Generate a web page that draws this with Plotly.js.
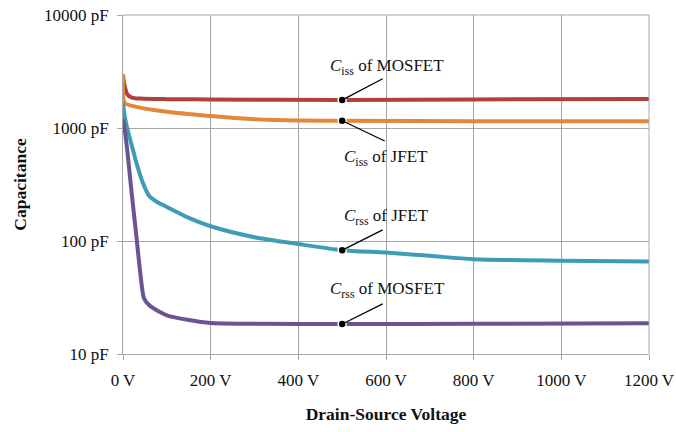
<!DOCTYPE html>
<html>
<head>
<meta charset="utf-8">
<script src="https://cdn.plot.ly/plotly-3.0.1.min.js"></script>
<style>html,body{margin:0;padding:0;background:#fff;}#chart{width:676px;height:432px;}</style>
</head>
<body>
<div id="chart"></div>
<script>
// Ciss of MOSFET
var mosfetCissV = [0, 2, 5, 10, 20, 40, 100, 200, 500, 800, 1200];
var mosfetCiss  = [2950, 2550, 2250, 1980, 1860, 1820, 1800, 1790, 1770, 1790, 1805];
// Ciss of JFET
var jfetCissV = [0, 1, 5, 23, 100, 200, 290, 400, 500, 800, 1200];
var jfetCiss  = [3000, 1800, 1650, 1560, 1390, 1276, 1200, 1165, 1160, 1150, 1150];
// Crss of JFET
var jfetCrssV = [0, 5, 10, 20, 30, 45, 60, 75, 100, 150, 200, 300, 400, 500, 600, 700, 800, 1000, 1200];
var jfetCrss  = [1650, 1200, 980, 700, 500, 330, 250, 225, 200, 160, 135, 108, 94, 83, 79, 74, 69, 67, 66];
// Crss of MOSFET
var mosfetCrssV = [0, 5, 10, 20, 30, 40, 48, 60, 80, 100, 150, 200, 300, 500, 800, 1200];
var mosfetCrss  = [1200, 900, 620, 260, 115, 50, 31, 27, 24, 22, 20, 18.8, 18.5, 18.4, 18.5, 18.7];

var xTickVals = [0, 200, 400, 600, 800, 1000, 1200];
var xTickText = ['0 V', '200 V', '400 V', '600 V', '800 V', '1000 V', '1200 V'];
var yTickVals = [10, 100, 1000, 10000];
var yTickText = ['10 pF', '100 pF', '1000 pF', '10000 pF'];

var labelV = 500;
var labels = ['<i>C</i><sub>iss</sub> of MOSFET', '<i>C</i><sub>iss</sub> of JFET',
              '<i>C</i><sub>rss</sub> of JFET', '<i>C</i><sub>rss</sub> of MOSFET'];

var FONT = 'Liberation Serif';

var series = [
  {v: mosfetCissV, c: mosfetCiss, color: '#b0423e'},
  {v: jfetCissV, c: jfetCiss, color: '#e3883a'},
  {v: jfetCrssV, c: jfetCrss, color: '#3d9db5'},
  {v: mosfetCrssV, c: mosfetCrss, color: '#6b5394'}
];

var traces = series.map(function(s){
  return {x: s.v, y: s.c, mode: 'lines', type: 'scatter',
          line: {color: s.color, width: 4, shape: 'spline', smoothing: 0.7},
          hoverinfo: 'skip', showlegend: false};
});

var dotY = series.map(function(s){ return s.c[s.v.indexOf(labelV)]; });
traces.push({x: dotY.map(function(){return labelV;}), y: dotY, mode: 'markers', type: 'scatter',
  marker: {color: '#000', size: 8, line: {color: '#fff', width: 1.5}}, showlegend: false, hoverinfo: 'skip'});

// label offsets (pixels) and leader line offsets
var textShift = [[45, 33], [44, -37], [44, 33], [45, 34]];
var lineOff = [[42, -22], [44, 21], [42, -21], [42, -21]];

var annotations = [];
dotY.forEach(function(v, i){
  annotations.push({x: labelV, y: Math.log10(v), xref: 'x', yref: 'y', text: labels[i],
    showarrow: false, xshift: textShift[i][0], yshift: textShift[i][1],
    font: {family: FONT, size: 17, color: '#111'}});
  annotations.push({x: labelV, y: Math.log10(v), xref: 'x', yref: 'y', text: '',
    showarrow: true, arrowhead: 0, arrowwidth: 1.3, arrowcolor: '#000',
    ax: lineOff[i][0], ay: lineOff[i][1], standoff: 3});
});

var layout = {
  width: 676, height: 432,
  margin: {l: 123, r: 27, t: 15, b: 78},
  paper_bgcolor: '#fff', plot_bgcolor: '#fff',
  font: {family: FONT, size: 17, color: '#111'},
  xaxis: {
    range: [0, 1200], tickvals: xTickVals, ticktext: xTickText,
    showgrid: true, gridcolor: '#a6a6a6', gridwidth: 1,
    showline: true, linecolor: '#a6a6a6', linewidth: 1, mirror: false,
    ticks: 'outside', ticklen: 5, tickcolor: '#a6a6a6', ticklabelstandoff: 6,
    tickfont: {family: FONT, size: 17, color: '#111'},
    zeroline: false,
    title: {text: '<b>Drain-Source Voltage</b>', font: {family: FONT, size: 17.5, color: '#111'}, standoff: 18}
  },
  yaxis: {
    type: 'log', range: [1, 4], tickvals: yTickVals, ticktext: yTickText,
    showgrid: true, gridcolor: '#a6a6a6', gridwidth: 1,
    showline: true, linecolor: '#a6a6a6', linewidth: 1,
    ticks: 'outside', ticklen: 5, tickcolor: '#a6a6a6', ticklabelstandoff: 5,
    tickfont: {family: FONT, size: 17, color: '#111'},
    zeroline: false,
    title: {text: '<b>Capacitance</b>', font: {family: FONT, size: 17.5, color: '#111'}, standoff: 12}
  },
  shapes: [
    {type: 'line', xref: 'paper', yref: 'paper', x0: 0, x1: 1, y0: 1, y1: 1, line: {color: '#a6a6a6', width: 1}},
    {type: 'line', xref: 'paper', yref: 'paper', x0: 1, x1: 1, y0: 0, y1: 1, line: {color: '#a6a6a6', width: 1}}
  ],
  annotations: annotations
};

Plotly.newPlot('chart', traces, layout, {staticPlot: true});
</script>
</body>
</html>
